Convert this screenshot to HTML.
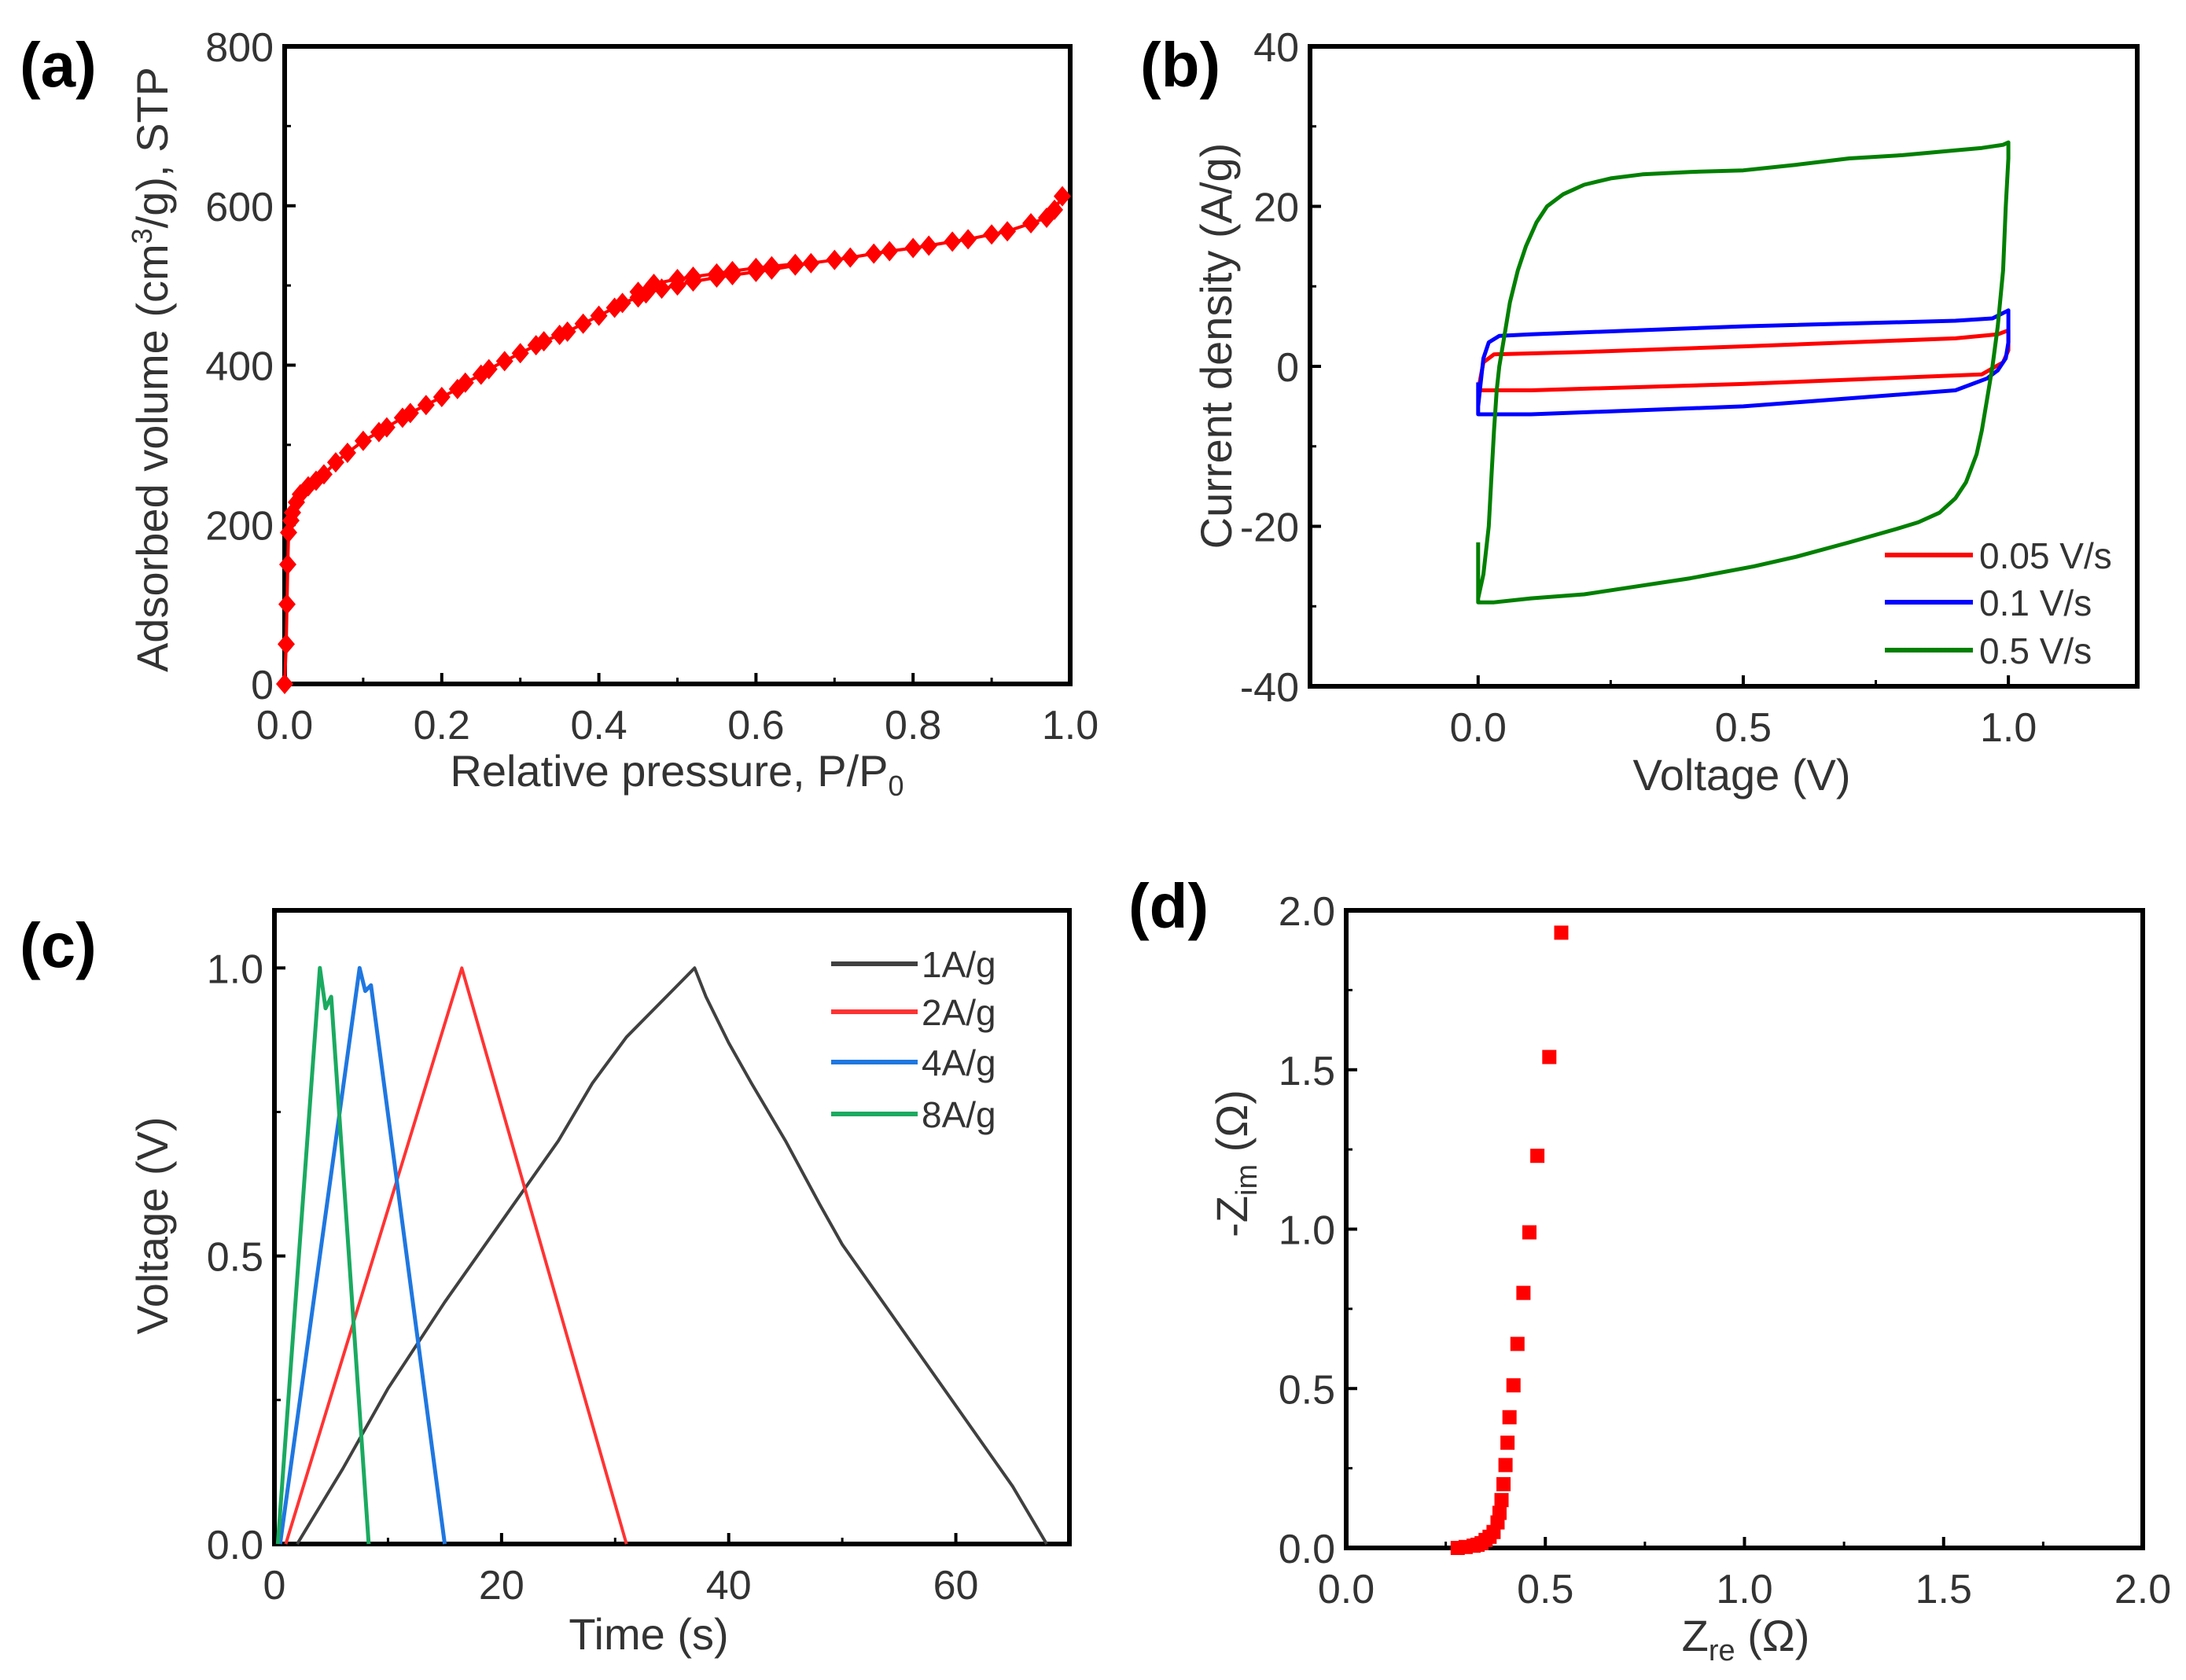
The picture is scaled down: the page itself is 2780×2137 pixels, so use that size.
<!DOCTYPE html>
<html><head><meta charset="utf-8"><style>
html,body{margin:0;padding:0;background:#fff;}
svg{display:block;font-family:"Liberation Sans",Arial,sans-serif;}
</style></head><body>
<svg id="fig" width="2780" height="2137" viewBox="0 0 2780 2137" xmlns="http://www.w3.org/2000/svg"></svg>
<script>
// ---------- data ----------
const isoP = [0,0.002,0.003,0.004,0.005,0.008,0.01,0.015,0.02,0.03,0.04,0.05,0.065,0.08,0.1,0.12,0.13,0.15,0.16,0.18,0.2,0.22,0.23,0.25,0.26,0.28,0.3,0.32,0.33,0.35,0.36,0.38,0.4,0.42,0.43,0.45,0.46,0.48,0.5,0.52,0.55,0.57,0.6,0.62,0.65,0.67,0.7,0.72,0.75,0.77,0.8,0.82,0.85,0.87,0.9,0.92,0.95,0.97,0.98,0.99];
const isoV = [0,50,100,150,190,205,215,228,238,248,255,263,278,290,305,316,322,334,340,350,360,370,378,388,395,405,415,425,430,438,442,452,462,472,478,485,490,496,500,505,510,513,517,520,525,528,532,535,540,543,547,550,555,558,564,568,578,585,595,612];
const desP = [0.45,0.47,0.5,0.52,0.55,0.57,0.6,0.62,0.65];
const desV = [492,502,508,511,515,518,522,524,527];

const cvRedX = [0,0.01,0.03,0.2,0.5,0.9,0.98,1.0,1.0,0.99,0.95,0.5,0.1,0,0];
const cvRedY = [-3,0.5,1.5,1.8,2.5,3.5,4,4.5,2,0.5,-1,-2.2,-3,-3,-3];
const cvBlueX = [0,0.005,0.01,0.02,0.04,0.1,0.5,0.9,0.97,1.0,1.0,0.995,0.98,0.96,0.9,0.5,0.1,0.02,0,0];
const cvBlueY = [-5,-2,1,3,3.8,4,5,5.7,6,7,3,1,-0.5,-1.5,-3,-5,-6,-6,-6,-2];
const cvGreenX = [0,0.01,0.02,0.025,0.03,0.035,0.04,0.05,0.06,0.075,0.09,0.11,0.13,0.16,0.2,0.25,0.31,0.4,0.5,0.6,0.7,0.8,0.9,0.95,0.99,1.0,1.0,0.995,0.99,0.98,0.97,0.96,0.95,0.94,0.92,0.9,0.87,0.83,0.79,0.7,0.6,0.52,0.4,0.3,0.2,0.1,0.03,0.0,0.0];
const cvGreenY = [-29,-26,-20,-14,-8,-3,0,4,8,12,15,18,20,21.5,22.7,23.5,24,24.3,24.5,25.2,26,26.4,27,27.3,27.7,28,26,20,12,5,0,-4,-8,-11,-14.5,-16.5,-18.3,-19.5,-20.3,-22,-23.8,-25,-26.5,-27.5,-28.5,-29,-29.5,-29.5,-22];

const gcd1T = [2,6,10,15,20,25,28,31,33,35,37,38,40,42,45,48,50,55,60,65,68];
const gcd1V = [0,0.13,0.27,0.42,0.56,0.7,0.8,0.88,0.92,0.96,1.0,0.95,0.87,0.8,0.7,0.59,0.52,0.38,0.24,0.1,0];
const gcd2T = [1,16.5,31];
const gcd2V = [0,1.0,0];
const gcd4T = [0.5,7.5,8,8.5,15];
const gcd4V = [0,1.0,0.96,0.97,0];
const gcd8T = [0.3,4,4.5,5,8.3];
const gcd8V = [0,1.0,0.93,0.95,0];

const eisRe = [0.54,0.51,0.48,0.46,0.445,0.43,0.42,0.41,0.405,0.4,0.395,0.39,0.385,0.38,0.37,0.36,0.35,0.34,0.33,0.32,0.3,0.28];
const eisIm = [1.93,1.54,1.23,0.99,0.8,0.64,0.51,0.41,0.33,0.26,0.2,0.15,0.11,0.08,0.05,0.035,0.025,0.015,0.01,0.007,0.003,0.0];

const aXTicks=[0,0.2,0.4,0.6,0.8,1.0], aXLab=["0.0","0.2","0.4","0.6","0.8","1.0"];
const aYTicks=[0,200,400,600,800], aYLab=["0","200","400","600","800"];
const bXTicks=[0,0.5,1.0], bXLab=["0.0","0.5","1.0"];
const bYTicks=[-40,-20,0,20,40], bYLab=["-40","-20","0","20","40"];
const cXTicks=[0,20,40,60], cXLab=["0","20","40","60"];
const cYTicks=[0,0.5,1.0], cYLab=["0.0","0.5","1.0"];
const dXTicks=[0,0.5,1,1.5,2], dXLab=["0.0","0.5","1.0","1.5","2.0"];
const dYTicks=[0,0.5,1,1.5,2], dYLab=["0.0","0.5","1.0","1.5","2.0"];

// ---------- helpers ----------
const NS="http://www.w3.org/2000/svg";
const svg=document.getElementById('fig');
function mk(tag,attrs,parent){const e=document.createElementNS(NS,tag);for(const k in attrs)e.setAttribute(k,attrs[k]);(parent||svg).appendChild(e);return e;}
function scale(d0,d1,r0,r1){return v=>r0+(v-d0)/(d1-d0)*(r1-r0);}

function axes(p){
  const g=mk('g',{});
  
  
  const sx=scale(p.xmin,p.xmax,p.L,p.R), sy=scale(p.ymin,p.ymax,p.B,p.T);
  p.xt.forEach((v,i)=>{
    const x=sx(v);
    const t=mk('line',{x1:x,x2:x,y1:p.B,y2:p.B-14,stroke:'#000','stroke-width':4},g);
    
    const l=mk('text',{x:x,y:p.B+70,'font-size':52,'text-anchor':'middle',fill:'#333'},g);
    
    l.textContent=p.xl[i];
    if(i<p.xt.length-1){const m=sx((v+p.xt[i+1])/2);mk('line',{x1:m,x2:m,y1:p.B,y2:p.B-8,stroke:'#000','stroke-width':3},g);}
  });
  p.yt.forEach((v,i)=>{
    const y=sy(v);
    const t=mk('line',{x1:p.L,x2:p.L+14,y1:y,y2:y,stroke:'#000','stroke-width':4},g);
    
    const l=mk('text',{x:p.L-14,y:y+19,'font-size':52,'text-anchor':'end',fill:'#333'},g);
    
    l.textContent=p.yl[i];
    if(i<p.yt.length-1){const m=sy((v+p.yt[i+1])/2);mk('line',{x1:p.L,x2:p.L+8,y1:m,y2:m,stroke:'#000','stroke-width':3},g);}
  });
  const fr=mk('rect',{x:p.L,y:p.T,width:p.R-p.L,height:p.B-p.T,fill:'none',stroke:'#000','stroke-width':6},g);
  
  return {sx,sy};
}
function poly(xs,ys,s,color,w,name){
  const pts=xs.map((x,i)=>s.sx(x).toFixed(1)+','+s.sy(ys[i]).toFixed(1)).join(' ');
  const e=mk('polyline',{points:pts,fill:'none',stroke:color,'stroke-width':w,'stroke-linejoin':'round'});
  
}
function txt(x,y,s,size,opts,name){
  const e=mk('text',Object.assign({x:x,y:y,'font-size':size,fill:'#333'},opts||{}));
  
  e.innerHTML=s;return e;
}

// ---------- panel a ----------
const A=axes({name:'panel-a',L:362,R:1361,T:59,B:870,xmin:0,xmax:1,ymin:0,ymax:800,xt:aXTicks,xl:aXLab,yt:aYTicks,yl:aYLab});
poly(isoP,isoV,A,'#ff0000',4,'adsorption-line');
poly(desP,desV,A,'#ff0000',4,'desorption-line');
isoP.concat(desP).forEach((p,i)=>{
  const v=i<isoP.length?isoV[i]:desV[i-isoP.length];
  const x=A.sx(p),y=A.sy(v);
  const d=mk('polygon',{points:`${x},${y-13} ${x+11},${y} ${x},${y+13} ${x-11},${y}`,fill:'#ff0000'});
  
});
txt(25,110,'(a)',80,{'font-weight':'bold',fill:'#000'},'panel-a-label');
txt(861,1000,'Relative pressure, P/P<tspan font-size="36" dy="12">0</tspan>',56,{'text-anchor':'middle'},'x-axis-title-a');
txt(0,0,'Adsorbed volume (cm<tspan font-size="36" dy="-20">3</tspan><tspan dy="20">/g), STP</tspan>',56,{'text-anchor':'middle',transform:'translate(213,470) rotate(-90)'},'y-axis-title-a');

// ---------- panel b ----------
const B=axes({name:'panel-b',L:1666,R:2718,T:59,B:873,xmin:-0.317,xmax:1.243,ymin:-40,ymax:40,xt:bXTicks,xl:bXLab,yt:bYTicks,yl:bYLab});
poly(cvRedX,cvRedY,B,'#ff0000',5,'cv-0.05');
poly(cvBlueX,cvBlueY,B,'#0000ff',5,'cv-0.1');
poly(cvGreenX,cvGreenY,B,'#008000',5,'cv-0.5');
txt(1450,110,'(b)',80,{'font-weight':'bold',fill:'#000'},'panel-b-label');
txt(2215,1005,'Voltage (V)',56,{'text-anchor':'middle'},'x-axis-title-b');
txt(0,0,'Current density (A/g)',56,{'text-anchor':'middle',transform:'translate(1566,440) rotate(-90)'},'y-axis-title-b');
[['#ff0000','0.05 V/s',706],['#0000ff','0.1 V/s',766],['#008000','0.5 V/s',827]].forEach(l=>{
  const ln=mk('line',{x1:2397,x2:2509,y1:l[2],y2:l[2],stroke:l[0],'stroke-width':6});
  
  txt(2517,l[2]+17,l[1],46,{},'legend-entry');
});

// ---------- panel c ----------
const C=axes({name:'panel-c',L:349,R:1360,T:1158,B:1964,xmin:0,xmax:70,ymin:0,ymax:1.1,xt:cXTicks,xl:cXLab,yt:cYTicks,yl:cYLab});
poly(gcd1T,gcd1V,C,'#404040',4,'gcd-1Ag');
poly(gcd2T,gcd2V,C,'#ff3333',4,'gcd-2Ag');
poly(gcd4T,gcd4V,C,'#1f77e0',5,'gcd-4Ag');
poly(gcd8T,gcd8V,C,'#1aaa60',5,'gcd-8Ag');
txt(25,1230,'(c)',80,{'font-weight':'bold',fill:'#000'},'panel-c-label');
txt(825,2098,'Time (s)',56,{'text-anchor':'middle'},'x-axis-title-c');
txt(0,0,'Voltage (V)',56,{'text-anchor':'middle',transform:'translate(213,1559) rotate(-90)'},'y-axis-title-c');
[['#404040','1A/g',1226],['#ff3333','2A/g',1287],['#1f77e0','4A/g',1351],['#1aaa60','8A/g',1417]].forEach(l=>{
  const ln=mk('line',{x1:1057,x2:1167,y1:l[2],y2:l[2],stroke:l[0],'stroke-width':6});
  
  txt(1172,l[2]+17,l[1],46,{},'legend-entry');
});

// ---------- panel d ----------
const D=axes({name:'panel-d',L:1712,R:2725,T:1158,B:1969,xmin:0,xmax:2,ymin:0,ymax:2,xt:dXTicks,xl:dXLab,yt:dYTicks,yl:dYLab});
eisRe.forEach((r,i)=>{
  const x=D.sx(r),y=D.sy(eisIm[i]);
  const q=mk('rect',{x:x-9,y:y-9,width:18,height:18,fill:'#ff0000'});
  
});
txt(1435,1180,'(d)',80,{'font-weight':'bold',fill:'#000'},'panel-d-label');
txt(2220,2100,'Z<tspan font-size="38" dy="12">re</tspan><tspan dy="-12"> (Ω)</tspan>',56,{'text-anchor':'middle'},'x-axis-title-d');
txt(0,0,'-Z<tspan font-size="38" dy="12">im</tspan><tspan dy="-12"> (Ω)</tspan>',56,{'text-anchor':'middle',transform:'translate(1586,1480) rotate(-90)'},'y-axis-title-d');
</script>
</body></html>
